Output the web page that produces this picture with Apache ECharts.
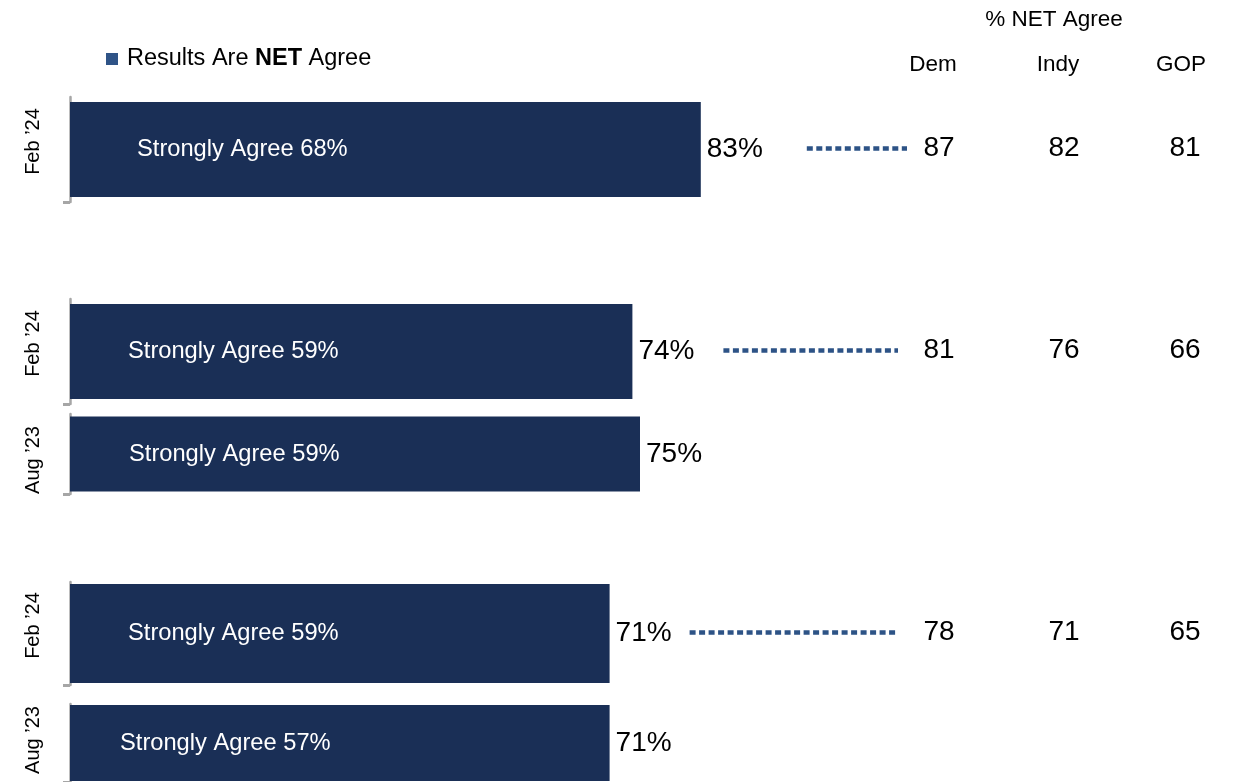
<!DOCTYPE html>
<html><head><meta charset="utf-8">
<script src="https://cdn.jsdelivr.net/npm/echarts@6/dist/echarts.min.js"></script>
<style>html,body{margin:0;padding:0;background:#fff}#c{width:1235px;height:782px}</style>
</head><body><div id="c"></div>
<script>
// ---- data ----
const periods = ["Feb \u201924", "Feb \u201924", "Aug \u201923", "Feb \u201924", "Aug \u201923"];
const netAgree = [83, 74, 75, 71, 71];
const stronglyAgree = [68, 59, 59, 59, 57];
const partyHeaders = ["Dem", "Indy", "GOP"];
const demValues = [87, 81, 78];
const indyValues = [82, 76, 71];
const gopValues = [81, 66, 65];
const partyRowBars = [0, 1, 3];
const legendText = ["Results Are ", "NET", " Agree"];
const partyTitle = "% NET Agree";

// ---- layout / style ----
const FONT = "'Liberation Sans', Arial, sans-serif";
const BAR = "#1a2f56";
const DOT = "#2d5386";
const AXIS = "#a6a6a6";
const gridTops = [97, 299, 414, 582, 704];
const gridHeights = [105, 105, 80, 103, 82];
const barWidths = [95, 95, 75, 99, 76];
const labelOffsets = [67, 58, 59, 58, 50];
const labelShift = [8, 8, -6, 8, 3];
const dotStartGap = [106, 91, 80];
const dotEndX = [907, 898, 898];
const headerX = [933, 1058, 1181];
const numX = [939, 1064, 1185];

const grids = [], xAxes = [], yAxes = [], series = [];
periods.forEach((p, i) => {
  const s = labelShift[i];
  const pad = s >= 0 ? [0, 0, 0, 2 * s] : [0, -2 * s, 0, 0];
  grids.push({left: 70, width: 760, top: gridTops[i], height: gridHeights[i]});
  xAxes.push({type: 'value', gridIndex: i, min: 0, max: 100, show: false});
  yAxes.push({type: 'category', gridIndex: i, data: [{value: p, textStyle: {padding: pad}}],
    axisLine: {show: true, lineStyle: {color: AXIS, width: 2.5}},
    axisTick: {show: false},
    axisLabel: {rotate: 90, margin: 27, fontSize: 20, color: '#000', fontFamily: FONT}});
  yAxes.push({type: 'value', gridIndex: i, min: 0, max: 1, position: 'left',
    axisLine: {show: false}, splitLine: {show: false}, axisLabel: {show: false},
    axisTick: {show: true, customValues: [0], length: 7, lineStyle: {color: AXIS, width: 3}}});
  series.push({type: 'bar', xAxisIndex: i, yAxisIndex: i * 2, barWidth: barWidths[i],
    data: [netAgree[i]], itemStyle: {color: BAR}, silent: true,
    label: {show: true, position: [labelOffsets[i], '50%'], align: 'left', verticalAlign: 'middle',
      formatter: 'Strongly Agree ' + stronglyAgree[i] + '%', color: '#fff', fontSize: 23.7, fontFamily: FONT}});
  series.push({type: 'bar', xAxisIndex: i, yAxisIndex: i * 2, barWidth: barWidths[i], barGap: '-100%',
    data: [netAgree[i]], itemStyle: {color: 'rgba(0,0,0,0)'}, silent: true,
    label: {show: true, position: 'right', distance: 6, formatter: '{c}%', color: '#000', fontSize: 28, fontFamily: FONT}});
});

const chart = echarts.init(document.getElementById('c'), null, {renderer: 'canvas'});
chart.setOption({animation: false, grid: grids, xAxis: xAxes, yAxis: yAxes, series: series});

// ---- text / decorations tied to data ----
const g = [];
g.push({type: 'rect', shape: {x: 106, y: 53, width: 12, height: 12}, style: {fill: '#2f5487'}});
g.push({type: 'text', x: 127, y: 59, style: {
  text: '{n|' + legendText[0] + '}{b|' + legendText[1] + '}{n|' + legendText[2] + '}',
  rich: {n: {fontSize: 23.5, fontFamily: FONT, fill: '#000'}, b: {fontSize: 23.5, fontFamily: FONT, fontWeight: 'bold', fill: '#000'}},
  verticalAlign: 'middle', align: 'left'}});
g.push({type: 'text', x: 1054, y: 20, style: {text: partyTitle, fontSize: 22.5, fontFamily: FONT, fill: '#000', align: 'center', verticalAlign: 'middle'}});
partyHeaders.forEach((h, k) => {
  g.push({type: 'text', x: headerX[k], y: 65, style: {text: h, fontSize: 22.5, fontFamily: FONT, fill: '#000', align: 'center', verticalAlign: 'middle'}});
});
const partyCols = [demValues, indyValues, gopValues];
partyRowBars.forEach((b, r) => {
  const end = chart.convertToPixel({gridIndex: b}, [netAgree[b], 0]);
  const y = end[1] - 1;
  partyCols.forEach((col, k) => {
    g.push({type: 'text', x: numX[k], y: y, style: {text: String(col[r]), fontSize: 28, fontFamily: FONT, fill: '#000', align: 'center', verticalAlign: 'middle'}});
  });
  g.push({type: 'line', shape: {x1: end[0] + dotStartGap[r], y1: y, x2: dotEndX[r], y2: y},
    style: {stroke: DOT, lineWidth: 4.5, lineDash: [6, 3.5]}});
});
chart.setOption({graphic: g});
</script>
</body></html>
